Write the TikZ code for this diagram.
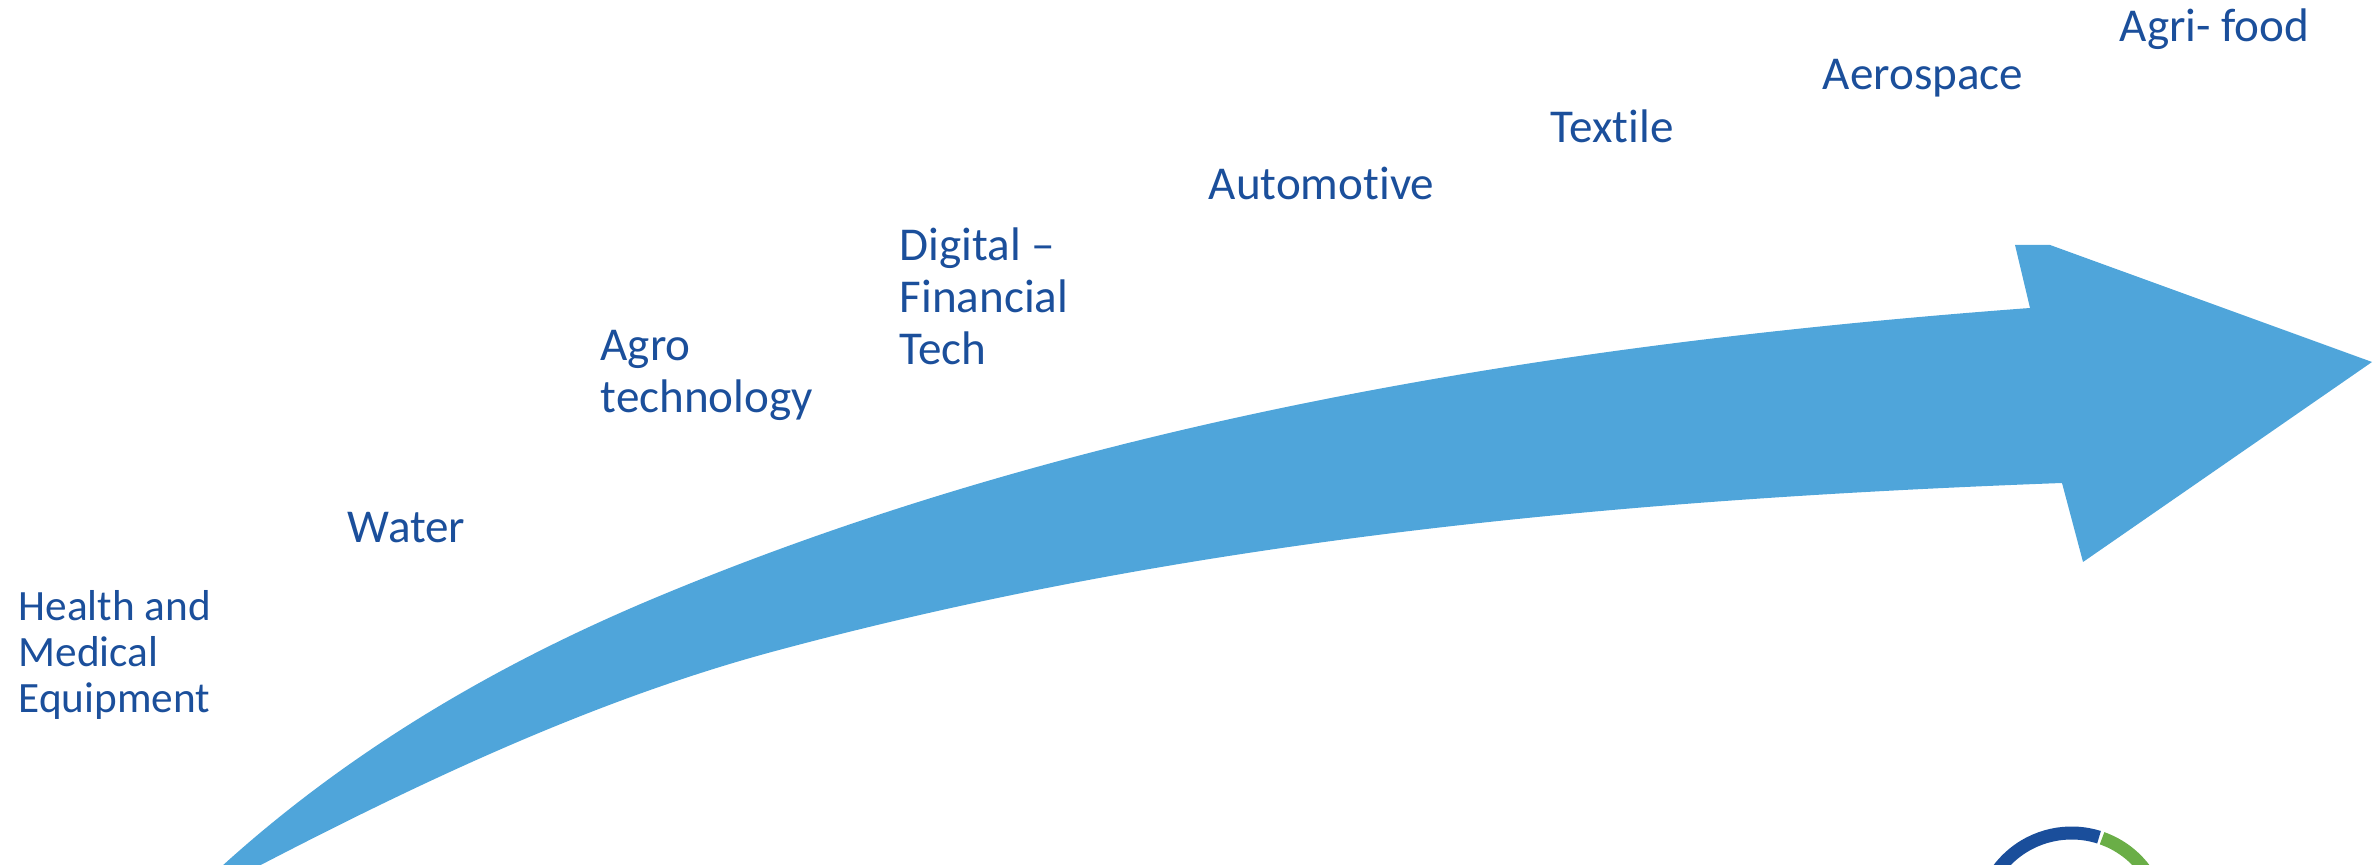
\documentclass[tikz,border=0pt]{standalone}
\usepackage{fontspec}
\setmainfont{Carlito}[Ligatures=NoCommon]
\usepackage{xcolor}
\usepackage{tikz}

\definecolor{sectorblue}{RGB}{27,79,155}
\definecolor{arrowblue}{RGB}{79,165,218}
\definecolor{ringblue}{RGB}{26,78,155}
\definecolor{ringgreen}{RGB}{106,174,71}

\begin{document}
\begin{tikzpicture}[x=0.01cm, y=-0.01cm, every node/.style = {anchor=base west, inner sep=0pt, align=left, text=sectorblue, font=\fontsize{13.4}{14.8}\selectfont, }]

\useasboundingbox (0,0) rectangle (2379,865);
\clip (0,0) rectangle (2379,865);

% big curved arrow
\fill[arrowblue] (178,908) .. controls (319,767) and (484,670) .. (650,600) .. controls (1083,418) and (1561,343) .. (2030,308) -- (2015,245) -- (2050,245) -- (2372,362) -- (2083,562) -- (2062,483) .. controls (1632,499) and (1200,537) .. (779,650) .. controls (576,704) and (381,801) .. (194,900) -- cycle;

\node (health) at (18,713) [font=\fontsize{12.3}{13.1}\selectfont] {Health and\\Medical\\Equipment};
\node (water) at (347,543) {Water};
\node (agro) at (600,413) {Agro\\technology};
\node (digital) at (899,365) {Digital –\\Financial\\Tech};
\node (automotive) at (1208,200) {Automotive};
\node (textile) at (1550,143) {Textile};
\node (aerospace) at (1822,90) {Aerospace};
\node (agrifood) at (2119,42) {Agri- food};

% ring at the bottom
\draw[ringblue, line width=0.13cm] (2071.5,924.5) ++(-72.5:91.5) arc [radius=91.5, start angle=-72.5, end angle=-175];
\draw[ringgreen, line width=0.13cm] (2071.5,924.5) ++(-70.5:91.5) arc [radius=91.5, start angle=-70.5, end angle=-10];
\end{tikzpicture}
\end{document}
